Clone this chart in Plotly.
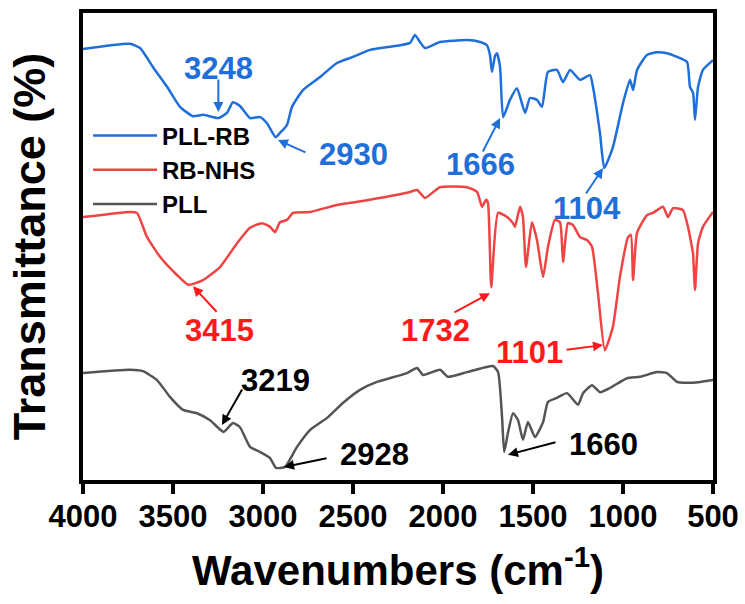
import plotly.graph_objects as go

# FTIR spectra (wavenumber in cm-1, offset transmittance in arbitrary %)
wn_pll_rb = [4000, 3739, 3683, 3611, 3533, 3461, 3389, 3333, 3248, 3200, 3167, 3128, 3072,
             3017, 2978, 2930, 2906, 2867, 2839, 2778, 2683, 2589, 2500, 2406, 2311, 2239,
             2183, 2156, 2128, 2100, 2017, 1867, 1794, 1756, 1739, 1728, 1711, 1700, 1683,
             1666, 1628, 1589, 1544, 1517, 1478, 1450, 1417, 1367, 1333, 1294, 1239, 1183,
             1167, 1128, 1104, 1056, 1000, 961, 944, 922, 867, 811, 756, 700, 644, 628, 611,
             600, 583, 556, 500]
t_pll_rb = [92.3, 93.4, 92.5, 88.4, 84.2, 79.9, 77.9, 78.2, 77.5, 78.6, 80.9, 80.1, 77.5,
            77.7, 76.4, 73.4, 74.3, 76.0, 79.9, 83.5, 86.3, 89.3, 90.6, 92.1, 92.7, 93.1,
            93.6, 95.3, 93.8, 92.5, 93.8, 94.2, 93.8, 93.1, 91.0, 87.4, 90.8, 91.4, 88.4,
            77.7, 81.4, 83.9, 78.6, 81.8, 81.4, 79.9, 87.4, 87.8, 85.2, 87.8, 85.7, 86.7,
            84.2, 74.3, 66.8, 71.3, 80.7, 85.7, 83.5, 87.8, 91.0, 91.6, 91.4, 90.6, 89.5, 84.2,
            82.9, 77.1, 84.2, 87.8, 89.9]

wn_rb_nhs = [4000, 3739, 3700, 3644, 3572, 3478, 3415, 3333, 3239, 3144, 3072, 3006, 2961,
             2933, 2906, 2867, 2833, 2739, 2589, 2406, 2200, 2144, 2100, 2017, 1867, 1811,
             1783, 1761, 1750, 1732, 1694, 1644, 1611, 1600, 1572, 1556, 1539, 1506, 1478,
             1444, 1417, 1378, 1350, 1333, 1306, 1278, 1239, 1200, 1172, 1139, 1101, 1056,
             1017, 972, 956, 944, 922, 867, 833, 778, 750, 722, 667, 639, 617, 611, 600, 583,
             556, 500]
t_rb_nhs = [56.3, 57.4, 57.2, 52.0, 47.8, 43.9, 41.8, 42.8, 45.6, 50.7, 54.0, 55.0, 54.2,
            53.1, 55.2, 55.7, 57.2, 57.4, 58.9, 60.0, 61.5, 62.1, 60.4, 62.7, 62.7, 61.7,
            58.5, 60.0, 59.3, 41.3, 57.2, 56.3, 55.0, 54.2, 58.5, 56.3, 45.6, 55.2, 51.4,
            43.5, 49.9, 55.7, 55.2, 46.7, 55.0, 54.6, 52.0, 51.4, 49.9, 40.0, 27.8, 32.8,
            43.5, 52.0, 52.5, 42.8, 52.9, 56.7, 57.2, 58.5, 56.3, 58.2, 57.8, 54.2, 49.9, 48.6,
            40.7, 50.7, 54.2, 57.4]

wn_pll = [4000, 3739, 3667, 3589, 3517, 3444, 3367, 3294, 3219, 3167, 3128, 3072, 3017,
          2961, 2928, 2878, 2811, 2739, 2644, 2556, 2461, 2367, 2200, 2144, 2111, 2017, 1972,
          1867, 1722, 1694, 1672, 1660, 1639, 1611, 1583, 1556, 1528, 1489, 1444, 1417, 1367,
          1311, 1250, 1222, 1172, 1128, 1072, 978, 906, 811, 756, 700, 644, 572, 500]
t_pll = [22.9, 23.6, 23.3, 21.4, 17.8, 15.0, 14.3, 12.8, 10.3, 12.2, 11.3, 7.1, 6.0,
         4.7, 2.6, 2.8, 7.1, 10.7, 13.3, 16.5, 19.3, 21.0, 22.9, 24.0, 22.5, 23.6, 22.1,
         23.1, 24.4, 23.1, 13.5, 6.0, 10.1, 14.3, 12.8, 8.6, 12.4, 9.2, 12.4, 16.7, 17.6,
         18.6, 16.1, 18.6, 20.3, 18.8, 19.7, 21.8, 22.1, 23.1, 22.9, 21.0, 20.8, 21.0, 21.4]

BLUE = "#1f6fdb"
RED_LINE = "#f04444"
RED_TEXT = "#ff1a1a"
GRAY = "#555555"

FONT = "Arial, Liberation Sans, sans-serif"

fig = go.Figure()
for wn, t, name, col in [(wn_pll_rb, t_pll_rb, "PLL-RB", BLUE),
                         (wn_rb_nhs, t_rb_nhs, "RB-NHS", RED_LINE),
                         (wn_pll, t_pll, "PLL", GRAY)]:
    fig.add_trace(go.Scatter(x=wn, y=t, mode="lines", name=name,
                             line=dict(color=col, width=2.5, shape="spline",
                                       smoothing=0.5)))

# peak labels: (label, head x, head y, tail dx, tail dy, text x, text y, colour)
peaks = [
    ("3248", 3248, 78.8, 0, -34, 3248, 88.2, BLUE),
    ("2930", 2917, 72.8, 29, 13, 2500, 69.6, BLUE),
    ("1666", 1683, 77.5, -18, 35, 1794, 67.5, BLUE),
    ("1104", 1111, 66.8, -18, 27, 1200, 58.2, BLUE),
    ("3415", 3389, 41.5, 25, 27, 3239, 32.1, RED_TEXT),
    ("1732", 1739, 40.0, -37, 20, 2039, 32.1, RED_TEXT),
    ("1101", 1111, 28.9, -38, 5, 1517, 27.4, RED_TEXT),
    ("3219", 3228, 11.8, 21, -37, 2933, 21.4, "#000000"),
    ("2928", 2883, 2.8, 44, -9, 2378, 5.4, "#000000"),
    ("1660", 1639, 5.4, 49, -13, 1111, 7.5, "#000000"),
]
for label, hx, hy, dx, dy, tx, ty, col in peaks:
    # arrow pointing at the band
    fig.add_annotation(x=hx, y=hy, ax=dx, ay=dy, text="", showarrow=True,
                       arrowhead=2, arrowsize=1, arrowwidth=2, arrowcolor=col)
    # band position label
    fig.add_annotation(x=tx, y=ty, text=label, showarrow=False,
                       font=dict(family=FONT, size=31, color=col, weight="bold"))

fig.update_layout(
    width=745, height=604,
    margin=dict(l=83, r=32, t=13, b=124, autoexpand=False),
    paper_bgcolor="white", plot_bgcolor="white",
    font=dict(family=FONT, color="#000000"),
    showlegend=True,
    legend=dict(x=0.008, y=0.785, xanchor="left", yanchor="top",
                bgcolor="rgba(0,0,0,0)", itemwidth=64,
                font=dict(family=FONT, size=24, color="#000000", weight="bold"),
                tracegroupgap=0),
)
fig.update_xaxes(
    range=[4000, 500], autorange=False, automargin=False,
    tickvals=[4000, 3500, 3000, 2500, 2000, 1500, 1000, 500],
    ticks="outside", ticklen=10, tickwidth=4, tickcolor="#000000",
    ticklabelstandoff=-4,
    showline=True, linewidth=4, linecolor="#000000", mirror=True,
    showgrid=False, zeroline=False,
    tickfont=dict(family=FONT, size=31, color="#000000", weight="bold"),
    title=dict(text="Wavenumbers (cm<sup>-1</sup>)", standoff=23,
               font=dict(family=FONT, size=42, color="#000000", weight="bold")),
)
fig.update_yaxes(
    range=[0, 100], autorange=False, automargin=False,
    showticklabels=False, ticks="",
    showline=True, linewidth=4, linecolor="#000000", mirror=True,
    showgrid=False, zeroline=False,
    title=dict(text="Transmittance (%)", standoff=20,
               font=dict(family=FONT, size=45, color="#000000", weight="bold")),
)

fig.write_html("out.html")
